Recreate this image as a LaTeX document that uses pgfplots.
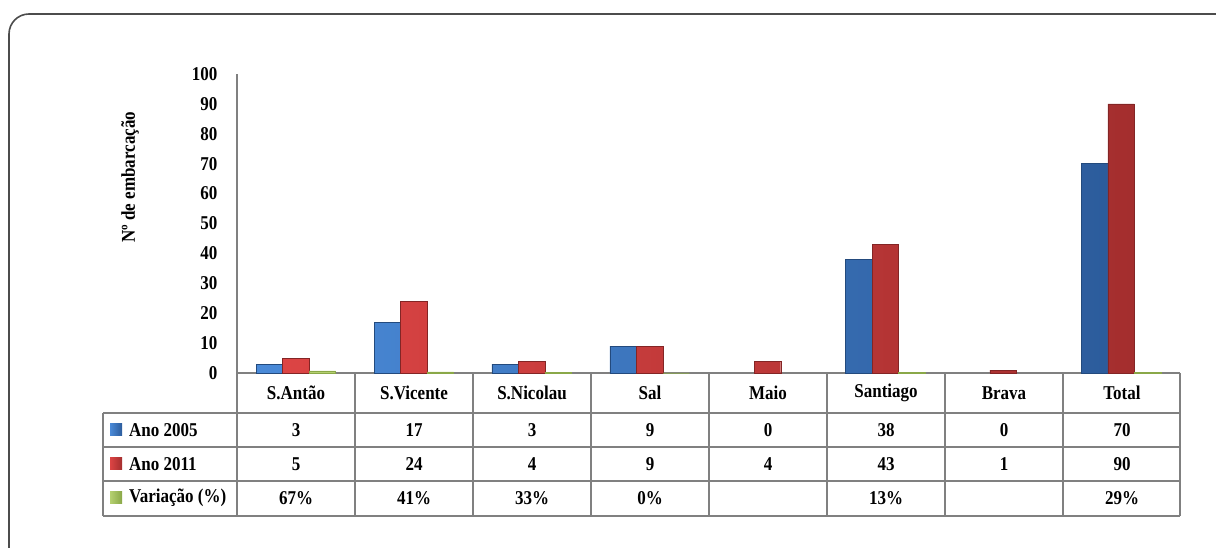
\documentclass[border=0pt]{standalone}
\usepackage{fontspec}
\setmainfont{Liberation Serif}
\usepackage{graphicx}
\usepackage{pgfplots}
\usepackage{pgfplotstable}
\pgfplotsset{compat=1.18}

\definecolor{bluL}{HTML}{4A8AD8}
\definecolor{bluD}{HTML}{2C5C9C}
\definecolor{redL}{HTML}{DC4444}
\definecolor{redD}{HTML}{A42E2E}
\definecolor{grnL}{HTML}{B5D070}
\definecolor{grnD}{HTML}{8AA848}
\definecolor{gridgray}{HTML}{808080}

% boats per island: 2005, 2011 and change in percent
\pgfplotstableread{
cat a05 a11 var
0.5 3  5  67
1.5 17 24 41
2.5 3  4  33
3.5 9  9  0
4.5 0  4  nan
5.5 38 43 13
6.5 0  1  nan
7.5 70 90 29
}\bardata

\newcommand\lbl{\fontsize{17bp}{20bp}\selectfont\bfseries}
\newcommand\st[1]{\scalebox{1}[1.15]{#1}}
\def\nanstr{nan}

\begin{document}
\begin{tikzpicture}[x=1bp,y=1bp]
\useasboundingbox (0,0) rectangle (1216,548);
% outer frame
\draw[line width=1.6bp, color=black!70, rounded corners=20bp] (9,-40) rectangle (1260,534);

\begin{axis}[
  at={(237bp,175bp)}, anchor=south west,
  scale only axis, width=943bp, height=299bp,
  xmin=0, xmax=8, ymin=0, ymax=100,
  axis x line*=bottom, axis y line*=left,
  axis line style={gridgray, line width=1.2bp},
  xtick=\empty,
  ytick={0,10,...,100},
  major tick length=0pt,
  /pgf/number format/assume math mode=true,
  yticklabel={\st{\pgfmathprintnumber{\tick}}},
  yticklabel style={font=\lbl, anchor=east, xshift=-16bp},
  ylabel={\st{N\textordmasculine{} de embarcação}},
  ylabel style={font=\lbl, at={(axis description cs:-0.1135,0.655)}, anchor=center},
  ybar=0pt, bar width=26.5bp,
  clip=false,
]
\addplot[draw=bluD!80!black, line width=0.4bp, left color=bluL, right color=bluD,
  y filter/.expression={y==0 ? nan : y}]
  table[x=cat, y=a05] {\bardata};
\addplot[draw=redD!80!black, line width=0.4bp, left color=redL, right color=redD,
  y filter/.expression={y==0 ? nan : y}]
  table[x=cat, y=a11] {\bardata};
\addplot[draw=grnD, line width=0.4bp, left color=grnL, right color=grnD]
  table[x=cat, y expr=\thisrow{var}/100] {\bardata};
\end{axis}

% data table below the bars
\begin{scope}[gridgray, line width=1.2bp]
  \foreach \yy in {413,447,481,516} \draw (103,548-\yy) -- (1180,548-\yy);
  \draw (103,548-413) -- (103,548-516);
  \foreach \xx in {237,355,473,591,709,827,945,1063,1180}
    \draw (\xx,548-373) -- (\xx,548-516);
\end{scope}

% column headers
\foreach \n [count=\i from 0] in {S.Antão,S.Vicente,S.Nicolau,Sal,Maio,Santiago,Brava,Total}
  \node[font=\lbl] at (296+118*\i,548-393) {\st{\n}};

% row headers with colour keys
\foreach \r/\t/\cl/\cd in {430/Ano 2005/bluL/bluD, 464/Ano 2011/redL/redD, 498/Variação (\%)/grnL/grnD}{
  \shade[left color=\cl, right color=\cd] (110,548-\r-6) rectangle (122,548-\r+6);
  \node[font=\lbl, anchor=west, inner sep=0pt] at (129,548-\r) {\st{\t}};
}

% table values
\foreach \i in {0,...,7}{
  \pgfplotstablegetelem{\i}{a05}\of\bardata
  \node[font=\lbl] at (296+118*\i,548-430) {\st{\pgfplotsretval}};
  \pgfplotstablegetelem{\i}{a11}\of\bardata
  \node[font=\lbl] at (296+118*\i,548-464) {\st{\pgfplotsretval}};
  \pgfplotstablegetelem{\i}{var}\of\bardata
  \edef\tmp{\pgfplotsretval}
  \ifx\tmp\nanstr\else
    \node[font=\lbl] at (296+118*\i,548-498) {\st{\pgfplotsretval\%}};
  \fi
}
\end{tikzpicture}
\end{document}
